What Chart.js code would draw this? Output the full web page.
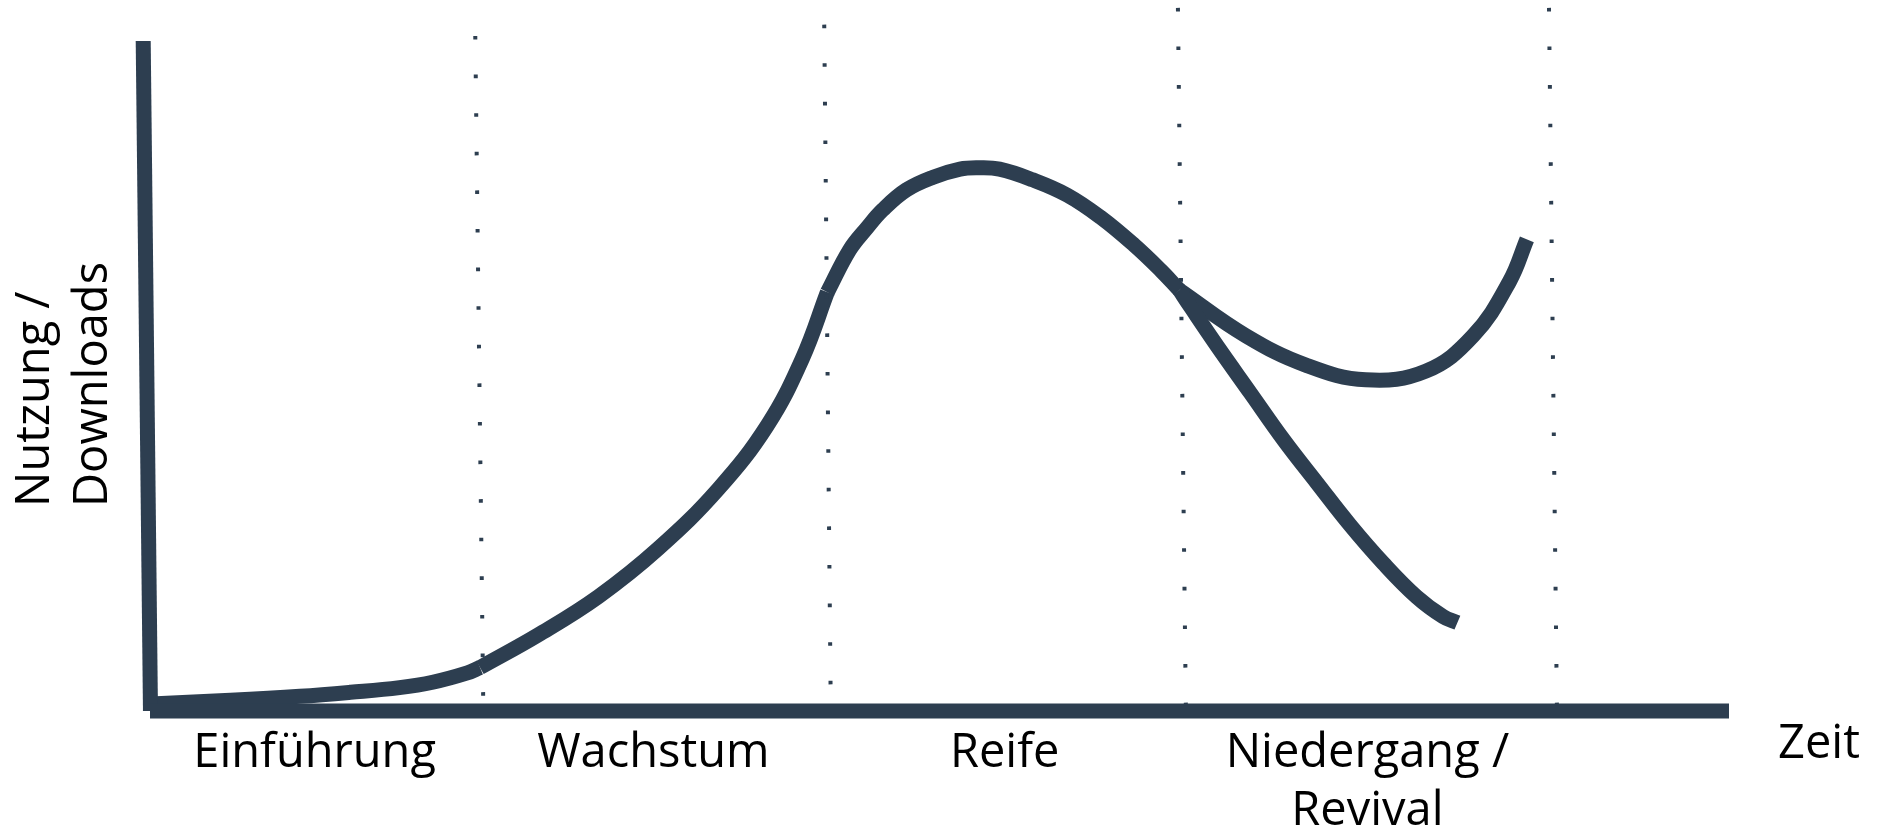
<!DOCTYPE html>
<html>
<head>
<meta charset="utf-8">
<script src="https://cdn.jsdelivr.net/npm/chart.js@4"></script>
<style>
  html, body { margin: 0; padding: 0; background: #fff; }
  canvas { display: block; }
</style>
</head>
<body>
<canvas id="myChart" width="1879" height="832"></canvas>
<script>
let ctx = document.getElementById('myChart').getContext('2d');

// phase names under the time axis
let phases = ['Einführung', 'Wachstum', 'Reife', ['Niedergang /', 'Revival']];
let yTitle = ['Nutzung /', 'Downloads'];
let xTitle = 'Zeit';

// phase boundaries (dotted lines), top and bottom end of each line
let boundaryTopX = [20.6, 42.7, 65.1, 88.6];
let boundaryTopY = [100.9, 102.6, 105.1, 105.1];
let boundaryBottomX = [21.1, 43.1, 65.6, 89.1];
let boundaryBottomY = [2.1, 3.9, 0.8, 0.8];

// axes
let axisX = [[0, 0], [100, 0]];
let axisY = [[0.03, 0], [-0.43, 100.15]];

// usage curve, one piece per phase
let introduction = [[0.4, 1.1], [5.1, 1.6], [9.5, 2.2], [12.7, 2.8], [15.8, 3.5], [17.9, 4.3], [20.1, 5.7], [20.9, 6.5]];
let growth = [[20.9, 6.5], [24.6, 11.4], [28.4, 17.1], [32.2, 24.3], [36.0, 33.2], [39.1, 42.7], [41.3, 52.6], [42.9, 62.6]];
let maturity = [[42.9, 62.6], [44.3, 68.9], [45.4, 72.2], [46.4, 74.9], [47.9, 77.9], [49.6, 79.8], [51.3, 81.0], [52.4, 81.2],
                [53.8, 81.0], [55.9, 79.4], [58.1, 77.1], [60.2, 73.8], [62.3, 69.7], [64.0, 65.9], [65.2, 62.9]];
let decline = [[65.2, 62.9], [65.9, 60.4], [67.6, 54.5], [69.7, 47.5], [71.8, 40.5], [73.9, 34.1], [76.0, 27.8], [78.1, 22.1],
               [80.2, 17.1], [81.9, 14.1], [82.8, 13.2]];
let revival = [[65.2, 62.9], [69.4, 56.1], [73.2, 51.7], [77.0, 49.5], [80.8, 50.8], [83.8, 56.1], [86.1, 64.2], [87.2, 70.5]];

const dark = '#2d3e50';

function pts(list) {
    return list.map(p => ({x: p[0], y: p[1]}));
}

function solid(list, smooth) {
    return {
        data: pts(list),
        borderColor: dark,
        borderWidth: 15,
        borderCapStyle: 'butt',
        borderJoinStyle: 'round',
        tension: smooth ? 0.4 : 0,
        pointRadius: 0,
        clip: false
    };
}

let datasets = [];

// dotted phase lines
for (let i = 0; i < boundaryTopX.length; i++) {
    datasets.push({
        data: [{x: boundaryTopX[i], y: boundaryTopY[i]}, {x: boundaryBottomX[i], y: boundaryBottomY[i]}],
        borderColor: dark,
        borderWidth: 4,
        borderDash: [3.6, 35],
        borderCapStyle: 'butt',
        pointRadius: 0,
        tension: 0,
        clip: false
    });
}

datasets.push(solid(axisX, false));
datasets.push(solid(axisY, false));
datasets.push(solid(introduction, true));
datasets.push(solid(growth, true));
datasets.push(solid(maturity, true));
datasets.push(solid(decline, true));
datasets.push(solid(revival, true));

const textPlugin = {
    id: 'texts',
    afterDatasetsDraw(chart) {
        const c = chart.ctx;
        const area = chart.chartArea;
        const xs = chart.scales.x;
        c.save();
        c.fillStyle = '#000';
        c.font = '47px "Open Sans"';
        c.textBaseline = 'alphabetic';

        // phase labels centred between boundaries
        let edges = [0];
        for (let i = 0; i < boundaryTopX.length; i++) {
            edges.push((boundaryTopX[i] + boundaryBottomX[i]) / 2);
        }
        c.textAlign = 'center';
        phases.forEach((p, i) => {
            let cx = xs.getPixelForValue((edges[i] + edges[i + 1]) / 2);
            let lines = Array.isArray(p) ? p : [p];
            lines.forEach((t, j) => c.fillText(t, cx, area.bottom + 56 + j * 58));
        });

        // axis titles
        c.textAlign = 'left';
        c.fillText(xTitle, area.right + 49, area.bottom + 47);

        c.translate(0, 507);
        c.rotate(-Math.PI / 2);
        yTitle.forEach((t, j) => c.fillText(t, 0, 49 + j * 58));
        c.restore();
    }
};

let chart = new Chart(ctx, {
    type: 'line',
    data: {datasets: datasets},
    options: {
        responsive: false,
        devicePixelRatio: 1,
        animation: false,
        layout: {
            padding: {left: 150, right: 150, top: 42, bottom: 121}
        },
        scales: {
            x: {type: 'linear', min: 0, max: 100, display: false},
            y: {type: 'linear', min: 0, max: 100, display: false}
        },
        plugins: {
            legend: {display: false},
            tooltip: {enabled: false}
        }
    },
    plugins: [textPlugin]
});
</script>
</body>
</html>
